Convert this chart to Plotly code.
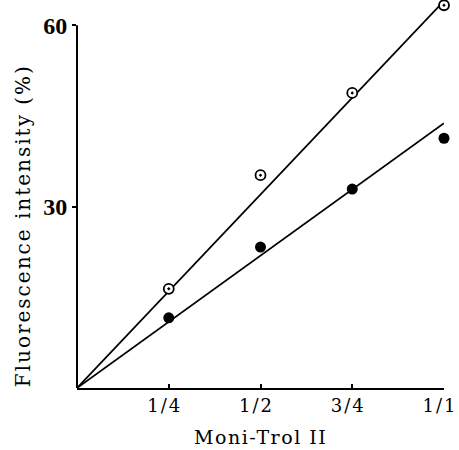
import plotly.graph_objects as go

# Data
dilution = [0.25, 0.5, 0.75, 1.0]
dilution_labels = ["1/4", "1/2", "3/4", "1/1"]
open_values = [16.4, 35.2, 48.8, 63.3]
filled_values = [11.6, 23.3, 32.9, 41.3]
fit_x = [0.0, 1.0]
open_fit = [0.0, 64.0]
filled_fit = [0.0, 43.8]
y_ticks = [30, 60]
y_axis_top = 60

fig = go.Figure()
fig.add_trace(go.Scatter(x=fit_x, y=open_fit, mode="lines",
                         line=dict(color="black", width=1.8), showlegend=False, hoverinfo="skip"))
fig.add_trace(go.Scatter(x=fit_x, y=filled_fit, mode="lines",
                         line=dict(color="black", width=1.8), showlegend=False, hoverinfo="skip"))
fig.add_trace(go.Scatter(x=dilution, y=open_values, mode="markers",
                         marker=dict(symbol="circle-dot", size=10, color="white",
                                     line=dict(color="black", width=1.8)),
                         showlegend=False, cliponaxis=False))
fig.add_trace(go.Scatter(x=dilution, y=filled_values, mode="markers",
                         marker=dict(symbol="circle", size=11, color="black"),
                         showlegend=False, cliponaxis=False))

spaced = lambda s, px: f'<span style="letter-spacing:{px}px">{s}</span>'

fig.update_layout(
    width=459, height=450,
    margin=dict(l=77, r=15, t=1, b=62),
    paper_bgcolor="white", plot_bgcolor="white",
    xaxis=dict(range=[0, 1], tickvals=dilution, ticktext=[spaced(t, 2) for t in dilution_labels],
               automargin=False,
               showgrid=False, zeroline=False, showline=True, linecolor="black", linewidth=2,
               ticks="inside", ticklen=4, tickcolor="black", tickwidth=1.5, ticklabelshift=-4,
               tickfont=dict(family="DejaVu Serif", size=18, color="black")),
    yaxis=dict(range=[0, 64], tickvals=y_ticks, automargin=False,
               showgrid=False, zeroline=False, showline=False,
               ticks="outside", ticklen=4, tickcolor="black", tickwidth=1.5,
               tickfont=dict(family="Liberation Serif", size=24, color="black", weight="bold")),
    shapes=[
        dict(type="line", xref="paper", yref="y", x0=0, x1=0, y0=0, y1=y_axis_top,
             line=dict(color="black", width=2)),
    ],
    annotations=[
        dict(text=spaced("Moni-Trol II", 1.5), xref="paper", yref="paper", x=0.5, y=-0.127,
             xanchor="center", yanchor="middle", showarrow=False,
             font=dict(family="DejaVu Serif", size=19, color="black")),
        dict(text=spaced("Fluorescence intensity (%)", 2), xref="paper", yref="paper", x=-0.145, y=0.42,
             xanchor="center", yanchor="middle", showarrow=False, textangle=-90,
             font=dict(family="DejaVu Serif", size=20, color="black")),
    ],
)

fig.write_html("out.html", config={"displayModeBar": False},
               post_script="document.body.style.margin='0';")
